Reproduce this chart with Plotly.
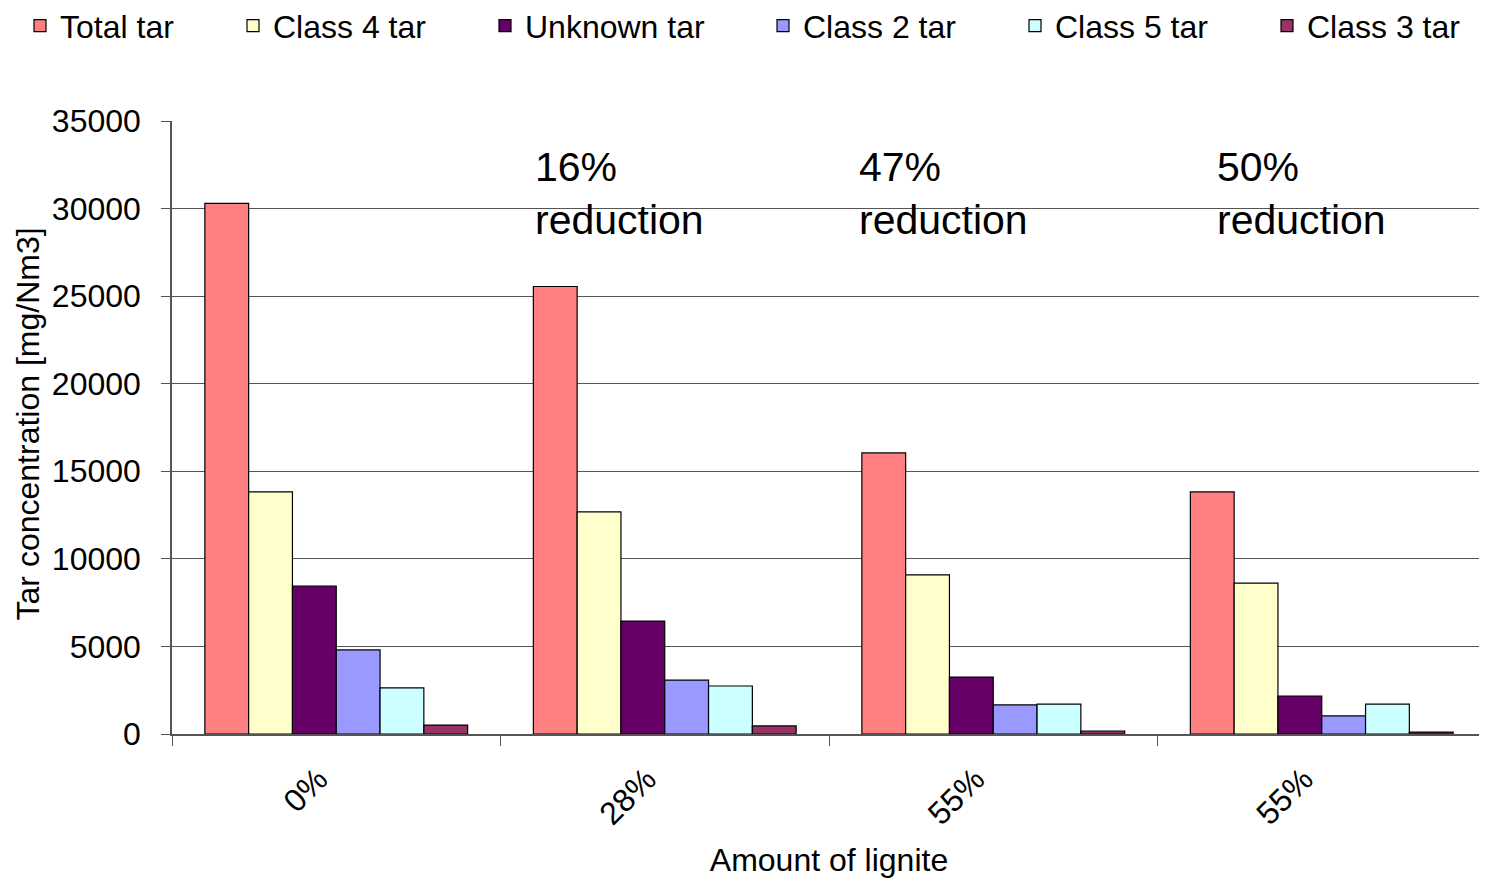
import plotly.graph_objects as go

lignite_labels = ["0%", "28%", "55%", "55%"]
category_ids = ["c0", "c1", "c2", "c3"]

series_names = ["Total tar", "Class 4 tar", "Unknown tar", "Class 2 tar", "Class 5 tar", "Class 3 tar"]
total_tar = [30300, 25550, 16050, 13820]
class4_tar = [13820, 12680, 9080, 8620]
unknown_tar = [8450, 6450, 3250, 2170]
class2_tar = [4800, 3080, 1660, 1030]
class5_tar = [2630, 2740, 1710, 1710]
class3_tar = [510, 460, 170, 110]
series_values = [total_tar, class4_tar, unknown_tar, class2_tar, class5_tar, class3_tar]
series_colors = ["#FF8080", "#FFFFCC", "#660066", "#9999FF", "#CCFFFF", "#993366"]

reduction_labels = ["16%<br>reduction", "47%<br>reduction", "50%<br>reduction"]
y_title = "Tar concentration [mg/Nm3]"
x_title = "Amount of lignite"

FONT = "Liberation Sans, Arial, sans-serif"
W = 1479
L = 164
legend_x_px = [12, 225, 477, 755, 1007, 1259]

fig = go.Figure()
legend_layout = {}
for i, (name, vals, col) in enumerate(zip(series_names, series_values, series_colors)):
    lg = "legend" if i == 0 else f"legend{i + 1}"
    fig.add_trace(go.Bar(
        x=category_ids, y=vals, name=name, legend=lg,
        marker=dict(color=col, line=dict(color="black", width=1.2)),
    ))
    legend_layout[lg] = dict(
        orientation="h", x=legend_x_px[i] / W, xref="container", xanchor="left",
        y=1.2, yref="paper", yanchor="top",
        font=dict(size=32), bgcolor="rgba(0,0,0,0)",
    )

ann_x = [0.2745, 0.5215, 0.794]
for txt, xp in zip(reduction_labels, ann_x):
    fig.add_annotation(
        text=txt, x=xp, y=0.965, xref="paper", yref="paper",
        xanchor="left", yanchor="top", align="left", showarrow=False,
        font=dict(size=41, color="black", family=FONT),
    )

# y-axis title as rotated text
fig.add_annotation(
    text=y_title, x=(20 - L) / (W - L - 1), y=0.505, xref="paper", yref="paper",
    xanchor="center", yanchor="middle", textangle=-90, showarrow=False,
    font=dict(size=32, color="black", family=FONT),
)

fig.update_layout(
    width=W, height=870,
    barmode="group", bargap=0.2, bargroupgap=0,
    plot_bgcolor="white", paper_bgcolor="white",
    margin=dict(l=L, r=1, t=113, b=144, autoexpand=False),
    font=dict(family=FONT, size=32, color="black"),
    showlegend=True,
    xaxis=dict(
        type="category", tickmode="array", tickvals=category_ids, ticktext=lignite_labels,
        tickangle=-45, tickson="boundaries", ticks="outside", ticklen=10,
        tickcolor="#555", showline=True, linecolor="#555", linewidth=1.5,
        showgrid=False, automargin=True, ticklabelstandoff=12, ticklabelshift=-18,
        title=dict(text=x_title, font=dict(size=32), standoff=23),
    ),
    yaxis=dict(
        range=[0, 35000], dtick=5000, tickformat="d",
        showgrid=True, gridcolor="#555", gridwidth=1,
        showline=True, linecolor="#555", linewidth=1.5, mirror=True,
        ticks="outside", ticklen=9, tickcolor="#555",
        zeroline=False, automargin=True, ticklabelstandoff=14,
    ),
    **legend_layout,
)

fig.write_html("out.html")
